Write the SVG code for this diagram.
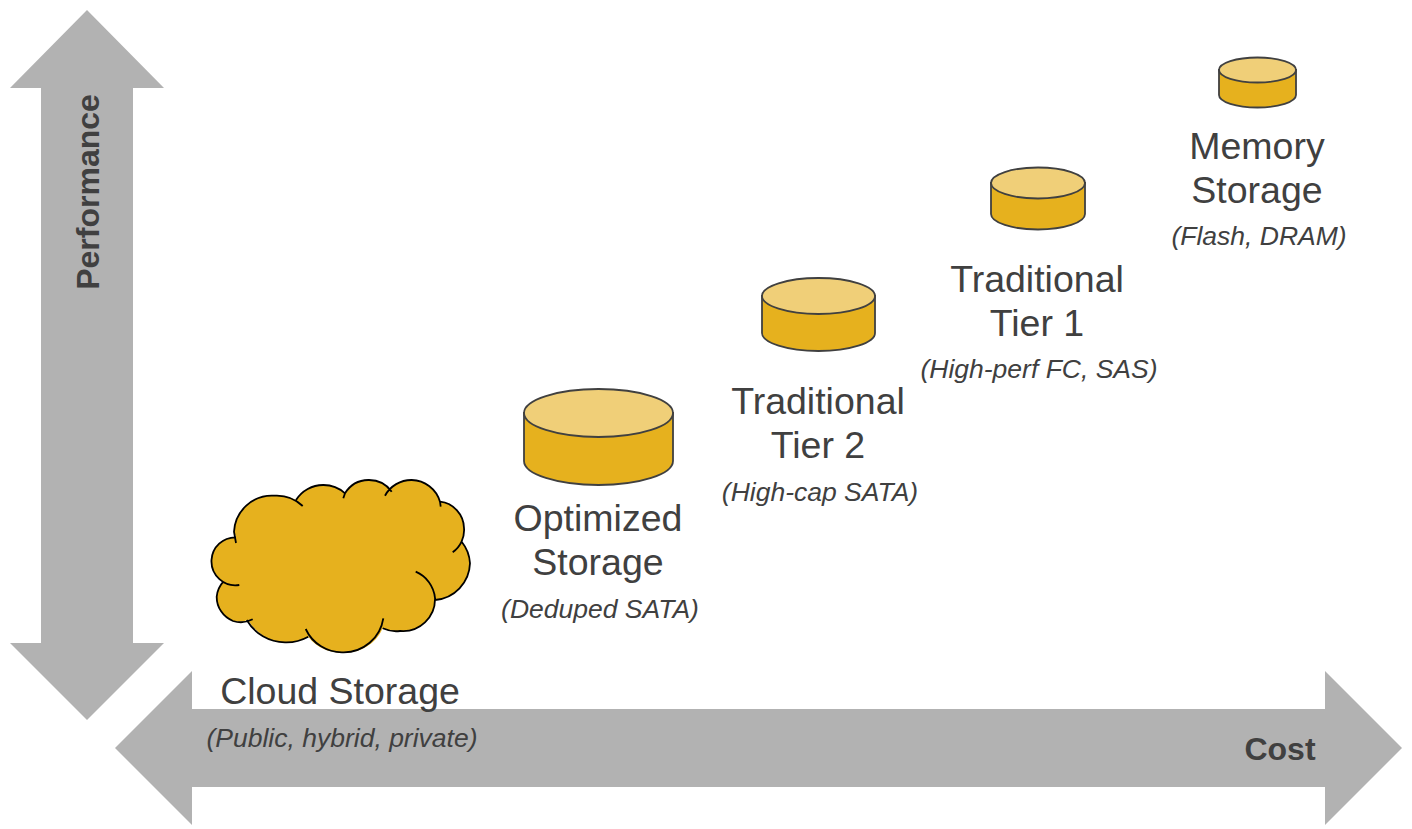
<svg xmlns="http://www.w3.org/2000/svg" width="1412" height="829" viewBox="0 0 1412 829">
<style>
.arrow{fill:#b2b2b2}
.cyl{fill:#e6b11e;stroke:#404040;stroke-width:1.8}
.top{fill:#f0cf78;stroke:#404040;stroke-width:1.8}
.cf{fill:#e6b11e}
.cl{fill:none;stroke:#000;stroke-width:1.8}
text{font-family:"Liberation Sans",Arial,sans-serif;text-anchor:middle;fill:#404040}
.t{font-size:37.500px}
.s{font-size:26.500px;font-style:italic}
.b{font-size:32px;font-weight:bold}
</style>
<g id="performance-arrow"><polygon class="arrow" points="87,10 164,88 133,88 133,643 164,643 87,720 10,643 41,643 41,88 10,88"/>
<text class="b" transform="translate(99,192) rotate(-90)">Performance</text></g>
<g id="cost-arrow"><polygon class="arrow" points="115,748 192,671 192,709 1325,709 1325,671 1402,748 1325,825 1325,787 192,787 192,825"/>
<text class="b" x="1280" y="760">Cost</text></g>
<g id="cloud">
<path class="cf" d="M234,531.700A38 38 0 0 1 273.300,495.700A38 38 0 0 1 296,500A32 32 0 0 1 323.300,485A32 32 0 0 1 345,493.300A28 28 0 0 1 368.300,480A28 28 0 0 1 390,489.500A30 30 0 0 1 411.700,480A30 30 0 0 1 440,501.700A27 27 0 0 1 464,528A27 27 0 0 1 461.700,541.700A38 38 0 0 1 470,563.300A38 38 0 0 1 435,600A32 32 0 0 1 400,631A32 32 0 0 1 382.700,628.300A40 40 0 0 1 343.300,652.300A40 40 0 0 1 308.300,636.700A45 45 0 0 1 285,642.300A45 45 0 0 1 248,620A26 26 0 0 1 233,621A26 26 0 0 1 216.700,596.700A26 26 0 0 1 223.300,581.700A24 24 0 0 1 211.500,560A24 24 0 0 1 236,537.300Z"/>
<path class="cl" d="M236,537.300A24 24 0 0 0 211.500,560A24 24 0 0 0 239.300,585M236,543L234,531.700A38 38 0 0 1 273.300,495.700A38 38 0 0 1 302.700,506M296,500A32 32 0 0 1 323.300,485A32 32 0 0 1 345,493.300L343.300,498.300M345,493.300A28 28 0 0 1 368.300,480A28 28 0 0 1 391.700,491.700M385,495.700A30 30 0 0 1 411.700,480A30 30 0 0 1 440,501.700L440.700,506.700M440,501.700A27 27 0 0 1 464,528A27 27 0 0 1 452.700,552.300M461.700,541.700A38 38 0 0 1 470,563.300A38 38 0 0 1 435,600M415.700,571.700A32 32 0 0 1 435,598A32 32 0 0 1 400,631A32 32 0 0 1 382.700,628.300M383.300,618.300A40 40 0 0 1 343.300,652.300A40 40 0 0 1 305.700,629M308.300,636.700A45 45 0 0 1 285,642.300A45 45 0 0 1 246.700,620M252.700,619.300A26 26 0 0 1 233,621A26 26 0 0 1 216.700,596.700A26 26 0 0 1 223.300,581.700"/>
<text class="t" x="340" y="704">Cloud Storage</text><text class="s" x="342" y="747">(Public, hybrid, private)</text></g>
<g id="optimized"><path class="cyl" d="M524,413V461A74.500,24 0 0 0 673,461V413Z"/><ellipse class="top" cx="598.500" cy="413" rx="74.500" ry="24"/>
<text class="t" x="598" y="531">Optimized</text><text class="t" x="598" y="575">Storage</text><text class="s" x="600" y="618">(Deduped SATA)</text></g>
<g id="tier2"><path class="cyl" d="M762,296V333A56.500,18 0 0 0 875,333V296Z"/><ellipse class="top" cx="818.500" cy="296" rx="56.500" ry="18"/>
<text class="t" x="818" y="414">Traditional</text><text class="t" x="818" y="458">Tier 2</text><text class="s" x="820" y="501">(High-cap SATA)</text></g>
<g id="tier1"><path class="cyl" d="M991,183V214A47,15.500 0 0 0 1085,214V183Z"/><ellipse class="top" cx="1038" cy="183" rx="47" ry="15.500"/>
<text class="t" x="1037" y="292">Traditional</text><text class="t" x="1037" y="336">Tier 1</text><text class="s" x="1039" y="378">(High-perf FC, SAS)</text></g>
<g id="memory"><path class="cyl" d="M1219,70V95A38.500,12.500 0 0 0 1296,95V70Z"/><ellipse class="top" cx="1257.500" cy="70" rx="38.500" ry="12.500"/>
<text class="t" x="1257" y="159">Memory</text><text class="t" x="1257" y="203">Storage</text><text class="s" x="1259" y="245">(Flash, DRAM)</text></g>
<g id="connectors"></g>
</svg>
